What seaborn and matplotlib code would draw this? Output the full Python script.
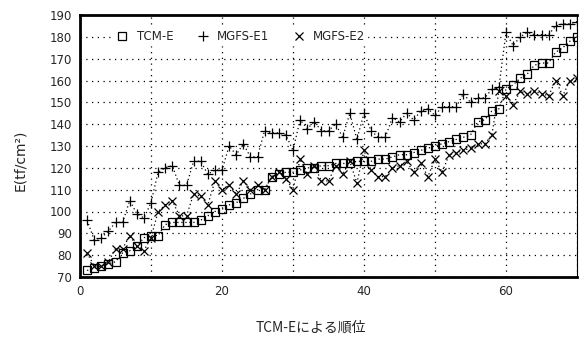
import matplotlib
matplotlib.use("Agg")
import matplotlib.pyplot as plt
from matplotlib.lines import Line2D
from matplotlib.ticker import MultipleLocator, FixedLocator
import seaborn as sns
import pandas as pd

# Rank by TCM-E (1..70) and the three stiffness estimates, E (tf/cm2)
rank = list(range(1, 71))

tcm_e = [73, 74, 75, 76, 77, 81, 82, 84, 88, 89,
         89, 94, 95, 95, 95, 95, 96, 98, 100, 101,
         103, 104, 106, 108, 110, 110, 116, 117, 118, 118,
         119, 120, 120, 121, 121, 122, 122, 122, 123, 123,
         123, 124, 124, 125, 126, 126, 127, 128, 129, 130,
         131, 132, 133, 134, 135, 141, 142, 146, 147, 156,
         158, 161, 163, 167, 168, 168, 173, 175, 178, 180]

mgfs_e1 = [96, 87, 88, 91, 95, 95, 105, 99, 97, 104,
           118, 120, 121, 112, 112, 123, 123, 117, 119, 119,
           130, 126, 131, 125, 125, 137, 136, 136, 135, 128,
           142, 138, 141, 137, 137, 140, 134, 145, 133, 145,
           137, 134, 134, 143, 141, 145, 142, 146, 147, 144,
           148, 148, 148, 154, 150, 152, 152, 156, 157, 182,
           176, 180, 182, 181, 181, 181, 185, 186, 186, 187]

mgfs_e2 = [81, 75, 75, 77, 83, 83, 89, 84, 82, 88,
           100, 103, 105, 98, 98, 108, 107, 103, 114, 110,
           112, 108, 114, 110, 112, 110, 116, 118, 115, 110,
           124, 117, 121, 114, 114, 121, 117, 123, 113, 128,
           119, 116, 116, 120, 121, 123, 118, 122, 116, 124,
           118, 126, 127, 128, 129, 131, 131, 135, 155, 153,
           149, 155, 154, 155, 154, 153, 160, 153, 160, 161]

series = [("TCM-E", tcm_e, "s", 5.5),
          ("MGFS-E1", mgfs_e1, "+", 6.5),
          ("MGFS-E2", mgfs_e2, "x", 5.5)]

sns.set_style("white")
plt.rcParams["font.family"] = ["DejaVu Sans", "Noto Sans CJK JP"]

fig = plt.figure(figsize=(5.79, 3.38), dpi=100)
ax = fig.add_axes([80 / 579, 1 - 277 / 338, 497 / 579, 262 / 338])

for name, vals, mk, ms in series:
    df = pd.DataFrame({"rank": rank, "E": vals})
    sns.lineplot(data=df, x="rank", y="E", ax=ax, color="black",
                 linestyle=(0, (1, 2.2)), linewidth=0.9,
                 marker=mk, markersize=ms, markeredgewidth=0.9,
                 markerfacecolor="none", markeredgecolor="black",
                 legend=False)

ax.set_xlim(0, 70)
ax.set_ylim(70, 190)
ax.xaxis.set_major_locator(FixedLocator([0, 20, 40, 60]))
ax.xaxis.set_minor_locator(MultipleLocator(10))
ax.yaxis.set_major_locator(MultipleLocator(10))

ax.grid(True, which="both", axis="x", color="black",
        linestyle=(0, (1, 3.6)), linewidth=0.9)
ax.grid(True, which="major", axis="y", color="black",
        linestyle=(0, (1, 3.6)), linewidth=0.9)

for side, lw in [("left", 2.0), ("bottom", 2.0), ("top", 2.0), ("right", 0.8)]:
    ax.spines[side].set_color("black")
    ax.spines[side].set_linewidth(lw)

ax.tick_params(axis="both", which="both", direction="out", color="black",
               labelsize=8.5, pad=2)
ax.tick_params(axis="both", which="major", length=4, width=1.0)
ax.tick_params(axis="x", which="minor", length=4, width=1.0)

ax.set_xlabel("TCM-Eによる順位", fontsize=10,
              family=["Noto Sans CJK JP", "DejaVu Sans"])
ax.xaxis.set_label_coords(0.465, -0.165)
ax.set_ylabel("E(tf/cm²)", fontsize=10)
ax.yaxis.set_label_coords(-0.107, 0.447)

handles = [Line2D([], [], linestyle="none", marker=mk, markersize=ms,
                  markeredgewidth=0.9, markerfacecolor="none",
                  markeredgecolor="black", color="black", label=name)
           for name, vals, mk, ms in series]
leg = ax.legend(handles=handles, ncol=3, loc="center left",
                bbox_to_anchor=(0.07, 0.917), frameon=True, fontsize=8.5,
                handletextpad=0.7, columnspacing=2.0, handlelength=1.0,
                borderpad=0.15, borderaxespad=0.0)
leg.get_frame().set_facecolor("white")
leg.get_frame().set_edgecolor("white")
leg.get_frame().set_alpha(1.0)

fig.savefig("out.png", dpi=100, facecolor="white")
